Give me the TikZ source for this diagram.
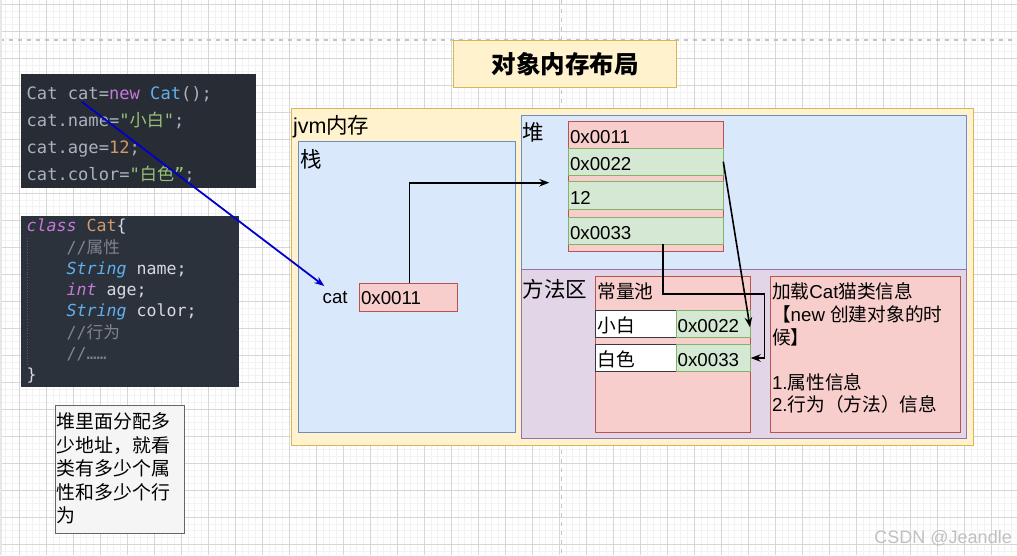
\documentclass[tikz,border=0pt]{standalone}
\usepackage{fontspec}
\setmainfont{Liberation Sans}
\newfontfamily\cjk{Noto Sans CJK SC}
\newfontfamily\mono{DejaVu Sans Mono}
\usetikzlibrary{arrows.meta}
\definecolor{gminor}{HTML}{F2F2F2}
\definecolor{gmajor}{HTML}{D6D6D6}
\definecolor{gpage}{HTML}{C4C4C4}
\definecolor{yfill}{HTML}{FFF2CC}
\definecolor{ydraw}{HTML}{D6B656}
\definecolor{bfill}{HTML}{DAE8FC}
\definecolor{bdraw}{HTML}{6C8EBF}
\definecolor{pfill}{HTML}{E1D5E7}
\definecolor{pdraw}{HTML}{9673A6}
\definecolor{rfill}{HTML}{F8CECC}
\definecolor{rdraw}{HTML}{B85450}
\definecolor{gfill}{HTML}{D5E8D4}
\definecolor{gdraw}{HTML}{82B366}
\definecolor{nfill}{HTML}{F5F5F5}
\definecolor{ndraw}{HTML}{666666}
\definecolor{cellline}{HTML}{36393D}
\definecolor{codebgA}{HTML}{282C34}
\definecolor{codebgB}{HTML}{2B323B}
\definecolor{cgray}{HTML}{ABB2BF}
\definecolor{cfg}{HTML}{D7DAE0}
\definecolor{cmag}{HTML}{C678DD}
\definecolor{cblue}{HTML}{61AFEF}
\definecolor{cgreen}{HTML}{98C379}
\definecolor{corange}{HTML}{D19A66}
\definecolor{ccomment}{HTML}{7F848E}
\definecolor{arrowblue}{HTML}{0000CC}
\definecolor{wm}{HTML}{C0C0C0}
\newcommand\fsbody{\fontsize{18.7}{22.6}\selectfont}
\newcommand\fsreg{\fontsize{21.5}{26}\selectfont}
\newcommand\fsA{\fontsize{17.1}{20}\selectfont}
\newcommand\fsB{\fontsize{16.6}{20}\selectfont}
\begin{document}
\begin{tikzpicture}[x=1pt,y=-1pt,
  box/.style={anchor=north west, inner sep=0pt, outer sep=0pt, line width=0.9pt},
  yel/.style={box, draw=ydraw, fill=yfill},
  blu/.style={box, draw=bdraw, fill=bfill},
  pur/.style={box, draw=pdraw, fill=pfill},
  red/.style={box, draw=rdraw, fill=rfill},
  grn/.style={box, draw=gdraw, fill=gfill},
  wht/.style={box, draw=cellline, fill=white},
  txt/.style={anchor=base west, inner sep=0pt, outer sep=0pt},
  body/.style={txt, font=\fsbody},
  reg/.style={txt, font=\fsreg},
  codeA/.style={txt, font=\mono\fsA, text=cgray},
  codeB/.style={txt, font=\mono\fsB, text=cfg},
  link/.style={line width=1.6pt, -{Stealth[length=10pt,width=7.5pt]}}]
\useasboundingbox (0,0) rectangle (1017,555);
\fill[white] (0,0) rectangle (1017,555);
% grid
\foreach \i in {0,...,150} \draw[gminor, line width=0.8pt] ({5.8+6.75*\i},0) -- ++(0,555);
\foreach \i in {0,...,82} \draw[gminor, line width=0.8pt] (0,{4.3+6.75*\i}) -- ++(1017,0);
\foreach \i in {0,...,37} \draw[gmajor, line width=0.9pt] ({19.3+27*\i},0) -- ++(0,555);
\foreach \i in {0,...,20} \draw[gmajor, line width=0.9pt] (0,{4.3+27*\i}) -- ++(1017,0);
\draw[gpage, line width=1.5pt, dash pattern=on 4pt off 5pt] (0,40) -- (1017,40);
\draw[gpage, line width=1.5pt, dash pattern=on 4pt off 5pt] (561.7,0) -- (561.7,555);
\fill[gmajor!60] (0,0) rectangle (2,555);

% title
\node[yel, minimum width=223.4pt, minimum height=47.3pt] (title) at (453.3,40) {};
\node[font=\cjk\bfseries\fontsize{24.5}{28}\selectfont, inner sep=0pt] (titletext) at (title.center) {对象内存布局};

% code block 1
\node[box, fill=codebgA, minimum width=234.7pt, minimum height=114.3pt] (code1) at (21,74) {};
\node[codeA] (c1l1) at (26.7,99.3) {Cat cat=\textcolor{cmag}{new} \textcolor{cblue}{Cat}();};
\node[codeA] (c1l2) at (26.7,126.3) {cat.name=\textcolor{cgreen}{"{\cjk 小白}"};};
\node[codeA] (c1l3) at (26.7,153.3) {cat.age=\textcolor{corange}{12};};
\node[codeA] (c1l4) at (26.7,180.3) {cat.color=\textcolor{cgreen}{"{\cjk 白色}”};};
\coordinate (catref) at (81.7,101.7);

% code block 2
\node[box, fill=codebgB, minimum width=218.3pt, minimum height=170.7pt] (code2) at (21,216) {};
\draw[ccomment!50!codebgB, line width=0.8pt, dotted] (27.5,238) -- (27.5,366);
\node[codeB] (c2l1) at (26.7,231.7) {\textcolor{cmag}{\itshape class} \textcolor{corange}{Cat}\{};
\node[codeB, text=ccomment] (c2l2) at (66.7,253.0) {//{\cjk 属性}};
\node[codeB] (c2l3) at (66.7,274.3) {\textcolor{cblue}{\itshape String} name;};
\node[codeB] (c2l4) at (66.7,295.6) {\textcolor{cmag}{\itshape int} age;};
\node[codeB] (c2l5) at (66.7,316.9) {\textcolor{cblue}{\itshape String} color;};
\node[codeB, text=ccomment] (c2l6) at (66.7,338.2) {//{\cjk 行为}};
\node[codeB, text=ccomment] (c2l7) at (66.7,359.5) {//……};
\node[codeB] (c2l8) at (26.7,380.8) {\}};

% note
\node[box, draw=ndraw, fill=nfill, minimum width=129pt, minimum height=127.6pt] (note) at (55,405.7) {};
\foreach \t [count=\i] in {堆里面分配多, 少地址，就看, 类有多少个属, 性和多少个行, 为}
  \node[body, font=\cjk\fontsize{18.9}{22}\selectfont] (note\i) at (56.7,{428.8+23.5*(\i-1)}) {\t};

% jvm memory
\node[yel, minimum width=681.6pt, minimum height=336.7pt] (jvm) at (291.7,108.3) {};
\node[reg] (jvmlbl) at (293,133.8) {jvm{\cjk 内存}};
\node[blu, minimum width=216.7pt, minimum height=291pt] (stack) at (298.3,141.7) {};
\node[reg] (stacklbl) at (300,167) {\cjk 栈};
\node[blu, minimum width=445.7pt, minimum height=154.3pt] (heap) at (521,115) {};
\node[reg] (heaplbl) at (522.7,140) {\cjk 堆};
\node[pur, minimum width=445.7pt, minimum height=169pt] (method) at (521,269.3) {};
\node[reg] (methodlbl) at (522.7,297) {\cjk 方法区};

% stack content
\node[body] (catlbl) at (322.7,303.3) {cat};
\node[red, minimum width=98.3pt, minimum height=28pt] (addr) at (359,283.3) {};
\node[body] (addrtxt) at (361,304) {0x0011};

% heap object
\node[red, minimum width=155pt, minimum height=130pt] (obj) at (568.3,121) {};
\node[grn, minimum width=155pt, minimum height=26.7pt] (h22) at (568.3,148.3) {};
\node[grn, minimum width=155pt, minimum height=27.3pt] (h12) at (568.3,181.7) {};
\node[grn, minimum width=155pt, minimum height=27pt] (h33) at (568.3,217.3) {};
\node[body] (t11) at (570,143) {0x0011};
\node[body] (t22) at (570,170.5) {0x0022};
\node[body] (t12) at (570,204) {12};
\node[body] (t33) at (570,239) {0x0033};

% constant pool
\node[red, minimum width=155.4pt, minimum height=156.3pt] (pool) at (595.3,276) {};
\node[body] (poollbl) at (597.3,298.8) {\cjk 常量池};
\node[wht, minimum width=80.7pt, minimum height=27pt] (p1w) at (595.3,310.7) {};
\node[grn, minimum width=74.7pt, minimum height=27pt] (p1g) at (676,310.7) {};
\node[wht, minimum width=80.7pt, minimum height=27.4pt] (p2w) at (595.3,344.3) {};
\node[grn, minimum width=74.7pt, minimum height=27.4pt] (p2g) at (676,344.3) {};
\node[body] (p1wt) at (597.3,332.4) {\cjk 小白};
\node[body] (p1gt) at (677.7,332.3) {0x0022};
\node[body] (p2wt) at (597.3,366) {\cjk 白色};
\node[body] (p2gt) at (677.7,366) {0x0033};

% class info
\node[red, minimum width=190pt, minimum height=156.3pt] (info) at (770.7,276) {};
\node[body] (i1) at (772,298.8) {{\cjk 加载}Cat{\cjk 猫类信息}};
\node[body] (i2) at (772,321.4) {{\cjk 【}new {\cjk 创建对象的时}};
\node[body] (i3) at (772,344) {\cjk 候】};
\node[body] (i4) at (772,389.2) {1.{\cjk 属性信息}};
\node[body] (i5) at (772,411.8) {2.{\cjk 行为（方法）信息}};

% connectors
\coordinate (catlblin) at (324.3,286);
\draw[link, arrowblue, line width=1.8pt] (catref) -- (catlblin);
\coordinate (objin) at (549.3,182.7);
\draw[link] (addr.north -| 409.3,0) |- (objin);
\coordinate (pool22) at (750,327.3);
\draw[link] (h22.east) -- (pool22);
\coordinate (h33out) at (662.7,244.3);
\draw[link] (h33out) -- (662.7,294) -- (764.3,294) -- (764.3,358) -- (p2g.east);

% watermark
\node[anchor=base east, inner sep=0pt, text=wm, font=\fontsize{18}{20}\selectfont] (wmark) at (1012,543) {CSDN @Jeandle};
\end{tikzpicture}
\end{document}
